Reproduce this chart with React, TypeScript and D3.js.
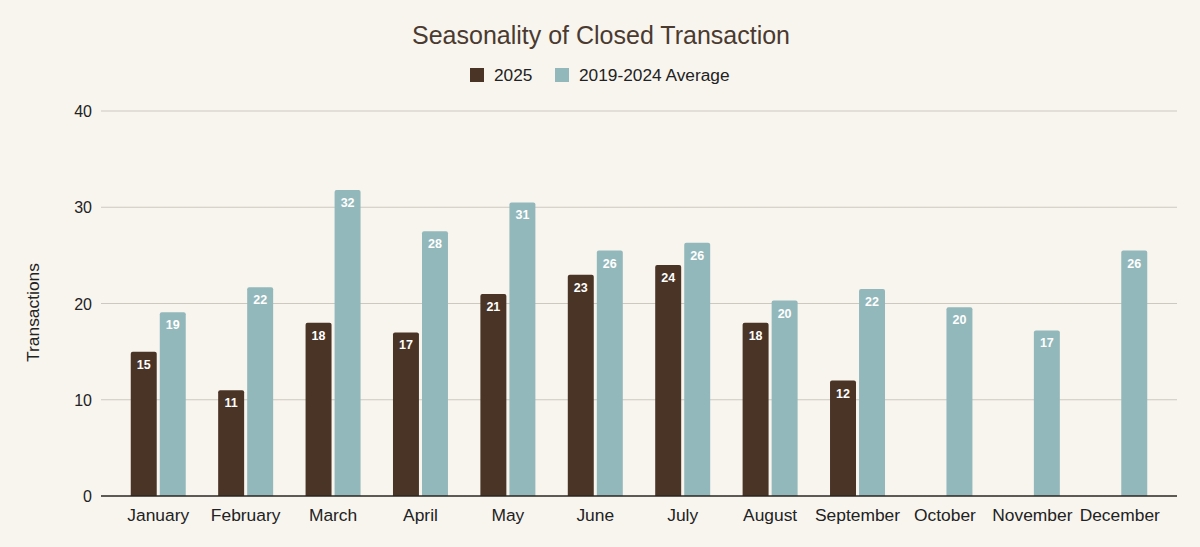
import { useRef, useEffect } from "react";
import * as d3 from "d3";

const W = 1200;
const H = 547;
const PAD = { top: 111, right: 23, bottom: 51, left: 101 };

const MONTHS = [
  "January", "February", "March", "April", "May", "June",
  "July", "August", "September", "October", "November", "December",
];
const SERIES = ["2025", "2019-2024 Average"];
const COLORS = ["#4a3426", "#93b8bb"];
const VALUES_2025: (number | null)[] = [15, 11, 18, 17, 21, 23, 24, 18, 12, null, null, null];
const VALUES_AVG = [19.1, 21.7, 31.8, 27.5, 30.5, 25.5, 26.3, 20.3, 21.5, 19.6, 17.2, 25.5];
const Y_TICKS = [0, 10, 20, 30, 40];

const FONT = "Helvetica, Arial, 'Liberation Sans', sans-serif";

export default function App() {
  const svgRef = useRef<SVGSVGElement>(null);

  useEffect(() => {
    document.body.style.margin = "0";
    const svg = d3.select(svgRef.current);
    if (!svg.node()) return;
    svg.selectAll("*").remove();

    svg.append("rect").attr("width", W).attr("height", H).attr("fill", "#f8f5ef");

    const x = d3
      .scaleBand()
      .domain(MONTHS)
      .range([PAD.left, W - PAD.right])
      .paddingInner(0)
      .paddingOuter(0.155);

    const inner = d3.scaleBand().domain(SERIES).range([-27.5, 27.5]).paddingInner(0.105);

    const y = d3.scaleLinear().domain([0, 40]).range([H - PAD.bottom, PAD.top]);

    // gridlines
    svg
      .append("g")
      .selectAll("line")
      .data(Y_TICKS.filter((t) => t > 0))
      .enter()
      .append("line")
      .attr("x1", PAD.left)
      .attr("x2", W - PAD.right)
      .attr("y1", (d) => y(d))
      .attr("y2", (d) => y(d))
      .attr("stroke", "#cdc8c0")
      .attr("stroke-width", 1);

    // y tick labels
    svg
      .append("g")
      .selectAll("text")
      .data(Y_TICKS)
      .enter()
      .append("text")
      .attr("x", 92)
      .attr("y", (d) => y(d) + 6)
      .attr("text-anchor", "end")
      .style("font-family", FONT)
      .style("font-size", "16px")
      .attr("fill", "#222")
      .text((d) => d);

    // y title
    svg
      .append("text")
      .attr("transform", `translate(39,${(PAD.top + H - PAD.bottom) / 2 + 9}) rotate(-90)`)
      .attr("text-anchor", "middle")
      .style("font-family", FONT)
      .style("font-size", "17.4px")
      .attr("fill", "#222")
      .text("Transactions");

    const seriesData = [VALUES_2025, VALUES_AVG];

    const rows = seriesData.flatMap((vals, si) =>
      vals.map((v, i) => ({ month: MONTHS[i], series: SERIES[si], si, v })),
    ).filter((d) => d.v != null) as { month: string; series: string; si: number; v: number }[];

    const barX = (d: { month: string; series: string }) =>
      x(d.month)! + x.bandwidth() / 2 + inner(d.series)!;
    const r = 2;

    svg
      .append("g")
      .selectAll("path")
      .data(rows)
      .enter()
      .append("path")
      .attr("fill", (d) => COLORS[d.si])
      .attr("d", (d) => {
        const x0 = barX(d);
        const w = inner.bandwidth();
        const top = y(d.v);
        const bot = y(0);
        return `M${x0},${bot}V${top + r}Q${x0},${top} ${x0 + r},${top}H${x0 + w - r}Q${x0 + w},${top} ${x0 + w},${top + r}V${bot}Z`;
      });

    svg
      .append("g")
      .selectAll("text")
      .data(rows)
      .enter()
      .append("text")
      .attr("x", (d) => barX(d) + inner.bandwidth() / 2)
      .attr("y", (d) => y(d.v) + 17)
      .attr("text-anchor", "middle")
      .style("font-family", FONT)
      .style("font-size", "12.5px")
      .style("font-weight", "bold")
      .attr("fill", "#fff")
      .text((d) => Math.round(d.v));

    // baseline
    svg
      .append("line")
      .attr("x1", PAD.left)
      .attr("x2", W - PAD.right)
      .attr("y1", y(0))
      .attr("y2", y(0))
      .attr("stroke", "#2a2420")
      .attr("stroke-width", 1.3);

    // x labels
    svg
      .append("g")
      .selectAll("text")
      .data(MONTHS)
      .enter()
      .append("text")
      .attr("x", (d) => x(d)! + x.bandwidth() / 2)
      .attr("y", 521)
      .attr("text-anchor", "middle")
      .style("font-family", FONT)
      .style("font-size", "17.4px")
      .attr("fill", "#222")
      .text((d) => d);

    // title
    svg
      .append("text")
      .attr("x", 601)
      .attr("y", 44)
      .attr("text-anchor", "middle")
      .style("font-family", FONT)
      .style("font-size", "25px")
      .attr("fill", "#4a3a30")
      .text("Seasonality of Closed Transaction");

    // legend
    const legend = [
      { label: SERIES[0], color: COLORS[0], x: 470 },
      { label: SERIES[1], color: COLORS[1], x: 555 },
    ];
    const lg = svg.append("g").selectAll("g").data(legend).enter().append("g");
    lg.append("rect")
      .attr("x", (d) => d.x)
      .attr("y", 68)
      .attr("width", 14)
      .attr("height", 14)
      .attr("fill", (d) => d.color);
    lg.append("text")
      .attr("x", (d) => d.x + 24)
      .attr("y", 81)
      .style("font-family", FONT)
      .style("font-size", "17.3px")
      .attr("fill", "#222")
      .text((d) => d.label);
  }, []);

  return <svg ref={svgRef} width={W} height={H} style={{ display: "block" }} />;
}
